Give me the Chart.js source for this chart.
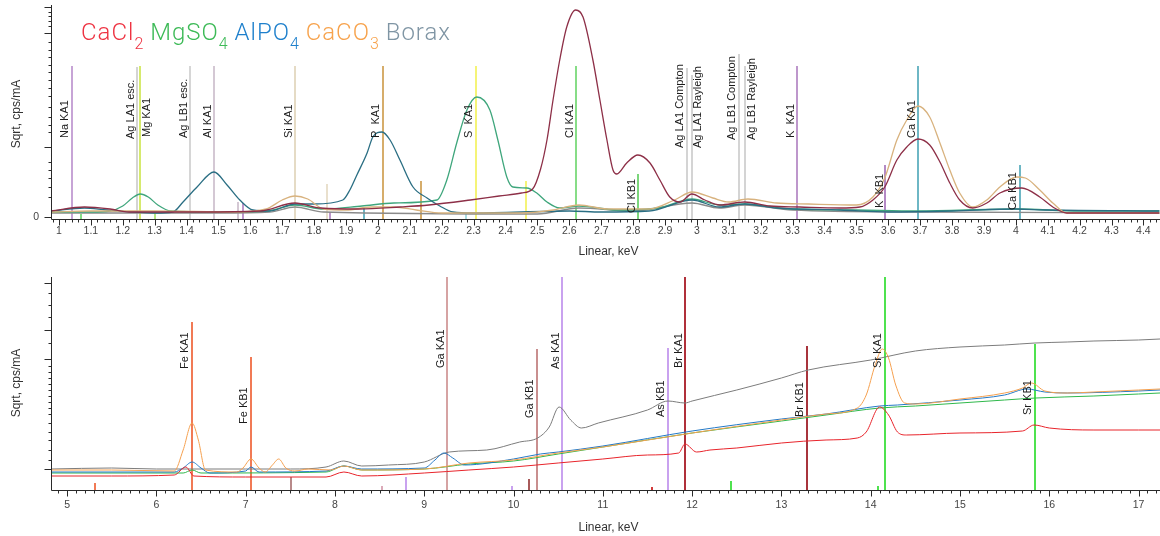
<!DOCTYPE html>
<html><head><meta charset="utf-8">
<script src="https://cdn.jsdelivr.net/npm/chart.js@4.4.0/dist/chart.umd.min.js"></script>
<style>
html,body{margin:0;padding:0;background:#fff;width:1160px;height:536px;overflow:hidden}
#wrapTop{position:absolute;left:0;top:0;width:1160px;height:260px}
#wrapBot{position:absolute;left:0;top:260px;width:1160px;height:276px}
#legend{position:absolute;left:81px;top:20px;font-family:Roboto,'Noto Sans',sans-serif;font-weight:300;font-size:24px;line-height:24px;letter-spacing:1px;white-space:nowrap}
#legend .s{font-size:16px;position:relative;top:9px;letter-spacing:0}
</style></head><body>
<div id="wrapTop"><canvas id="cTop" width="1160" height="260"></canvas></div>
<div id="wrapBot"><canvas id="cBot" width="1160" height="276"></canvas></div>
<div id="legend"><span style="color:#ee3342">CaCl<span class="s">2</span></span> <span style="color:#3dba57">MgSO<span class="s">4</span></span> <span style="color:#1f80cc">AlPO<span class="s">4</span></span> <span style="color:#f7a34d">CaCO<span class="s">3</span></span> <span style="color:#7f95a4">Borax</span></div>
<script>
// ---------- TOP PANEL DATA (keV, sqrt cps/mA, arbitrary units) ----------
const seriesNames = ['CaCl2','MgSO4','AlPO4','CaCO3','Borax'];

const topCaCl2X = [0.975,1.08,1.16,1.22,1.44,1.63,1.74,1.82,1.94,2.07,2.16,2.29,2.38,2.45,2.485,2.51,2.53,2.549,2.57,2.592,2.62,2.643,2.674,2.696,2.718,2.737,2.749,2.78,2.815,2.853,2.884,2.915,2.947,2.984,3.025,3.072,3.15,3.229,3.323,3.448,3.511,3.552,3.589,3.627,3.658,3.693,3.73,3.762,3.793,3.824,3.865,3.909,3.95,4.019,4.075,4.116,4.16,4.45];
const topCaCl2Y = [3,5,4,2.5,2.5,3,7,4.5,4,5,6,8.5,10.5,12,14,24,38.5,58.5,78.5,95,103.5,100,78.5,58.5,38.5,23.5,21.5,27,31,27,18.5,10,7.5,11.5,8.5,6,7.5,5.5,5,4.5,5,8.5,15,28.5,35,39,36,27.5,17,8.5,4.5,7,12,14.5,10,5,2,2];

const topMgSO4X = [0.975,1.1,1.16,1.2,1.23,1.255,1.28,1.31,1.35,1.5,1.65,1.74,1.83,1.95,2.05,2.185,2.216,2.247,2.279,2.31,2.351,2.376,2.404,2.423,2.467,2.498,2.53,2.57,2.63,2.75,2.88,2.985,3.07,3.15,3.3,3.5,3.69,4.0,4.2,4.45];
const topMgSO4Y = [2.5,2.5,3,5.5,9.5,11.5,10,6,3,2.5,3,6,4,5.5,7,8.5,18.5,37,53.5,60,53.5,38.5,20,15,14.5,12,7.5,4.5,5.5,3.5,4.5,9,6,6.5,4,3.5,3,4,3,3];

const topAlPO4X = [0.975,1.08,1.15,1.3,1.357,1.389,1.433,1.486,1.527,1.567,1.608,1.66,1.74,1.80,1.89,1.912,1.934,1.966,1.984,2.013,2.038,2.069,2.11,2.154,2.194,2.235,2.3,2.6,2.7,2.85,2.985,3.07,3.15,3.25,3.45,3.6,3.8,4.0,4.1,4.45];
const topAlPO4Y = [3,4.5,3.5,2,2.5,7.5,15,22.5,16,8.5,3.5,3,6.5,6.5,8.5,13.5,21,32,40,42.5,38.5,28.5,15,9.5,5.5,2.5,2,3,2.5,3,8.5,5,6.5,4.5,3.5,2.5,3,4,3.5,3];

const topCaCO3X = [0.975,1.1,1.3,1.55,1.65,1.70,1.74,1.78,1.83,1.9,1.98,2.05,2.12,2.2,2.45,2.55,2.63,2.72,2.85,2.93,2.985,3.05,3.1,3.16,3.25,3.35,3.5,3.552,3.589,3.627,3.658,3.693,3.73,3.762,3.793,3.824,3.865,3.909,3.95,4.003,4.03,4.075,4.116,4.16,4.45];
const topCaCO3Y = [2.5,3,3,2.5,4,8.5,10.5,9,4,3.5,5,5,3.5,2,2,3.5,6,4,4,8.5,12.5,9.5,7.5,9,7,6.5,6,10,19.5,38.5,48.5,55.5,50,37,23.5,12,5,8.5,15,20,19.5,13.5,7,2,2];

const topBoraxX = [0.975,1.5,1.66,1.74,1.83,2.5,2.63,2.8,2.985,3.07,3.15,3.3,3.7,4.45];
const topBoraxY = [2,2,2.5,5,2.5,1.5,4.5,3,7,4.5,6,3.5,2.5,2];

// element lines, top panel
const topLineKeV   = [1.041,1.244,1.254,1.411,1.487,1.740,2.016,2.308,2.622,2.816,2.968,2.984,3.133,3.151,3.314,3.590,3.692,4.013];
const topLineLabel = ['Na KA1','Ag LA1 esc.','Mg KA1','Ag LB1 esc.','Al KA1','Si KA1','P  KA1','S  KA1','Cl KA1','Cl KB1','Ag LA1 Compton','Ag LA1 Rayleigh','Ag LB1 Compton','Ag LB1 Rayleigh','K  KA1','K  KB1','Ca KA1','Ca KB1'];
const topLineTop   = [75.5,75,75.5,75.5,75.5,75.5,75.5,75.5,75.5,21.5,74.5,71,81.5,75.5,75.5,26,75.5,26];
const topLineLabelBase = [39.5,39,40,39.5,39.5,39.5,39.5,39.5,39.5,2,34.5,34.5,38.5,38.5,39.5,4.5,39.5,3.5];
// minor (unlabelled) lines, top panel
const topMinorKeV = [1.07,1.30,1.56,1.577,1.84,1.85,1.955,2.135,2.275,2.465];
const topMinorTop = [1.5,2.5,7.5,7,16.5,2.5,5,18,1.5,18];

// ---------- BOTTOM PANEL DATA ----------
const botCaCl2X = [4.82,5.5,6.2,6.33,6.42,7.0,7.9,8.1,8.3,9.0,9.5,10.0,10.5,11.0,11.5,11.85,11.92,12.05,12.2,12.5,13.0,13.5,13.85,13.95,14.1,14.2,14.3,14.4,15.0,15.7,15.83,16.0,16.5,17.0,17.24];
const botCaCl2Y = [-3,-3,-2.5,1.5,-3,-3.5,-3.5,-1,-3,-1.5,0,1.5,3.5,5.5,7.5,8.5,13,9,10,11,13.5,15,16,19,31.5,27.5,19,17.5,18.5,19.5,22.5,21,20,20,20];

const botMgSO4X = [4.82,6.3,6.4,6.5,7.9,8.1,8.3,9.0,9.5,10.0,10.5,11.0,12.0,13.0,13.5,14.1,14.5,15.0,15.5,15.85,16.5,17.0,17.24];
const botMgSO4Y = [-1.5,-1.5,0,-1.5,-1,2,0,0.5,3,4.5,8,11.5,18.5,24.5,27.5,31,32,33.5,35,36,37,38,38.5];

const botAlPO4X = [4.82,6.2,6.3,6.4,6.5,6.6,7.0,7.06,7.15,7.9,8.1,8.3,9.0,9.12,9.22,9.32,9.45,10.0,10.3,10.5,11.0,12.0,13.0,13.5,14.1,14.3,15.0,15.5,15.75,15.95,16.2,17.0,17.24];
const botAlPO4Y = [-1,-1,1,4,1,-1.5,-0.5,1.5,-1,-0.5,2,0.5,1,5,8.5,6,2.5,5.5,8,9,12,19.5,25.5,28,32,32.5,35,37.5,40.5,39,38.5,39.5,40];

const botCaCO3X = [4.82,5.5,6.2,6.3,6.4,6.47,6.55,6.9,6.97,7.06,7.15,7.22,7.3,7.37,7.45,7.55,7.7,7.95,8.1,8.3,9.0,9.5,10.0,10.5,11.0,12.0,13.0,13.5,13.85,13.95,14.05,14.13,14.2,14.28,14.38,14.5,15.0,15.5,15.7,15.8,15.95,16.2,16.5,17.0,17.24];
const botCaCO3Y = [0,0,-0.5,10,23.5,15,0,-1,1,5.5,1,-1,2.5,5.5,1,-0.5,0.5,0,2,0,0.5,3.5,5,8.5,11.5,18.5,25,28,31,37.5,52.5,60.5,56,42.5,33.5,33,35.5,38.5,41,43.5,39.5,38.5,39,40,40.5];

const botBoraxX = [4.82,5.5,6.0,6.5,7.0,7.5,7.9,8.1,8.3,8.6,9.0,9.28,9.7,10.07,10.27,10.4,10.51,10.64,10.76,10.95,11.5,11.73,11.92,12.0,12.5,13.0,13.3,14.0,14.5,15.0,15.5,15.84,16.2,16.5,17.0,17.24];
const botBoraxY = [0.5,1,0.5,0.5,0.5,0.5,1.5,4.5,2,2.5,4,9,10,14,16,21.5,31.5,25,21,23.5,30,34.5,33.5,34.5,40,46,50,55,59.5,61.5,62.5,63.5,64,64.5,65,65.5];

const botLineKeV   = [6.404,7.058,9.251,10.264,10.543,11.726,11.924,13.291,14.165,15.836];
const botLineLabel = ['Fe KA1','Fe KB1','Ga KA1','Ga KB1','As KA1','As KB1','Br KA1','Br KB1','Sr KA1','Sr KB1'];
const botLineTop   = [74,56.5,96.5,60.5,96.5,61,96.5,62,96.5,63];
const botLineLabelBase = [50.5,23,51,26,50.5,26.5,51,26.5,51,27.5];
const botMinorKeV = [5.31,7.51,8.53,8.80,9.98,10.17,11.55,12.44,14.08];
const botMinorTop = [-6.5,-3.5,-8,-3.5,-8,-4.5,-8.5,-5.5,-8];

// tick labels
const topTickLabels = [1,1.1,1.2,1.3,1.4,1.5,1.6,1.7,1.8,1.9,2,2.1,2.2,2.3,2.4,2.5,2.6,2.7,2.8,2.9,3,3.1,3.2,3.3,3.4,3.5,3.6,3.7,3.8,3.9,4,4.1,4.2,4.3,4.4];
const botTickLabels = [5,6,7,8,9,10,11,12,13,14,15,16,17];

// ---------- STYLES ----------
const topColors = {CaCl2:'#8d2f47',MgSO4:'#3fa67c',AlPO4:'#2a6e83',CaCO3:'#d8b27e',Borax:'#8a8a8a'};
const botColors = {CaCl2:'#e8242b',MgSO4:'#2fb84b',AlPO4:'#2479c6',CaCO3:'#f5a04f',Borax:'#7c7c7c'};
const topLineColors = ['#b486c9','#c6c6c6','#c9e33e','#c8c8c8','#c6b6c6','#dccfb2','#c8923a','#f2f04a','#5fd25f','#4fc94f','#c6c6c6','#c6c6c6','#c6c6c6','#c6c6c6','#a874bb','#9b62b2','#3e9fb2','#3e9fb2'];
const topLineLabelOff = [-7,-6,7,-6,-6,-6,-7,-7,-6,-6,-7,6,-7,7,-6,-5,-6,-7];
const topMinorColors = ['#5fd25f','#9ee05a','#c6b6c6','#a874bb','#e2d6bc','#a874bb','#3e9fb2','#c8923a','#8fd3d8','#f2f04a'];
const botLineColors = ['#f17a55','#f17a55','#d6a3a3','#c98f8f','#c9a2ef','#c9a2ef','#b0303a','#a8343c','#4fe24f','#4fe24f'];
const botLineLabelOff = [-7,-7,-6,-7,-6,-7,-6,-7,-7,-7];
const botMinorColors = ['#f17a55','#b88a8a','#dbaab8','#c9a2ef','#c9a2ef','#a85a5a','#d23a3a','#4fe24f','#4fe24f'];

const FONT = "'Liberation Sans', Arial, sans-serif";
Chart.defaults.font.family = FONT;
Chart.defaults.color = '#444';
Chart.defaults.animation = false;

function pts(xs, ys){ return xs.map((x,i)=>({x:x,y:ys[i]})); }
function noPad(s){ s.paddingTop=0; s.paddingBottom=0; s.paddingLeft=0; s.paddingRight=0; }

function decoPlugin(opt){
  return {
    id:'deco'+opt.name,
    beforeDatasetsDraw(chart){
      const {ctx, chartArea:a, scales:{x,y}} = chart;
      ctx.save();
      ctx.beginPath(); ctx.rect(a.left, a.top-1, a.right-a.left, a.bottom-a.top+1); ctx.clip();
      const drawLine=(e,top,col,w)=>{
        let px = Math.round(x.getPixelForValue(e)); if (w%2===1) px+=0.5;
        ctx.strokeStyle=col; ctx.lineWidth=w;
        ctx.beginPath(); ctx.moveTo(px, y.getPixelForValue(top)); ctx.lineTo(px, a.bottom); ctx.stroke();
      };
      opt.minorKeV.forEach((e,i)=>drawLine(e,opt.minorTop[i],opt.minorColors[i],opt.minorW));
      opt.lineKeV.forEach((e,i)=>drawLine(e,opt.lineTop[i],opt.lineColors[i],opt.lineW));
      ctx.restore();
    },
    afterDatasetsDraw(chart){
      const {ctx, scales:{x,y}} = chart;
      ctx.save();
      ctx.font = '11px '+FONT; ctx.fillStyle='#1b1b1b';
      ctx.textAlign='left'; ctx.textBaseline='middle';
      opt.lineKeV.forEach((e,i)=>{
        const px = x.getPixelForValue(e) + opt.labelOff[i];
        const py = y.getPixelForValue(opt.labelBase[i]);
        ctx.save(); ctx.translate(px, py); ctx.rotate(-Math.PI/2);
        ctx.fillText(opt.labels[i], 0, 0); ctx.restore();
      });
      ctx.restore();
    },
    afterDraw(chart){
      const {ctx, chartArea:a, scales:{x,y}} = chart;
      ctx.save();
      ctx.strokeStyle='#2a2a2a'; ctx.lineWidth=1;
      ctx.beginPath();
      ctx.moveTo(a.left+0.5, a.top); ctx.lineTo(a.left+0.5, a.bottom+0.5);
      ctx.lineTo(a.right, a.bottom+0.5); ctx.stroke();
      ctx.beginPath();
      for (let k=opt.xk0;k<=opt.xk1;k++){
        const v=k*opt.xMinorStep; const px=Math.round(x.getPixelForValue(v))+0.5;
        if (px<a.left+1||px>a.right) continue;
        const len = (k%opt.xMajorEvery===0)?6:3;
        ctx.moveTo(px,a.bottom+0.5); ctx.lineTo(px,a.bottom+0.5+len);
      }
      opt.yTicks.forEach((v)=>{
        const py=Math.round(y.getPixelForValue(v))+0.5;
        const len = opt.yMajor.includes(v)?7:3;
        ctx.moveTo(a.left+0.5,py); ctx.lineTo(a.left+0.5-len,py);
      });
      ctx.stroke();
      ctx.fillStyle='#333'; ctx.font='12px '+FONT;
      ctx.textAlign='center'; ctx.textBaseline='middle';
      ctx.fillText('Linear, keV', (a.left+a.right)/2+3, opt.xTitleY);
      ctx.save(); ctx.translate(17, opt.yTitleY); ctx.rotate(-Math.PI/2);
      ctx.fillText('Sqrt, cps/mA',0,0); ctx.restore();
      ctx.restore();
    }
  };
}

function makeChart(id, opt){
  const datasets = [
    {label:'CaCl2', data:pts(opt.d.CaCl2[0],opt.d.CaCl2[1]), borderColor:opt.colors.CaCl2},
    {label:'CaCO3', data:pts(opt.d.CaCO3[0],opt.d.CaCO3[1]), borderColor:opt.colors.CaCO3},
    {label:'AlPO4', data:pts(opt.d.AlPO4[0],opt.d.AlPO4[1]), borderColor:opt.colors.AlPO4},
    {label:'MgSO4', data:pts(opt.d.MgSO4[0],opt.d.MgSO4[1]), borderColor:opt.colors.MgSO4},
    {label:'Borax', data:pts(opt.d.Borax[0],opt.d.Borax[1]), borderColor:opt.colors.Borax}
  ].map(d=>Object.assign(d,{borderWidth:opt.bw,pointRadius:0,fill:false,
      cubicInterpolationMode:'monotone',tension:0}));
  return new Chart(document.getElementById(id),{
    type:'line',
    data:{datasets},
    options:{
      responsive:false, devicePixelRatio:1, animation:false,
      layout:{padding:{top:opt.padTop,left:0,right:0,bottom:0}},
      plugins:{legend:{display:false},tooltip:{enabled:false}},
      scales:{
        x:{type:'linear',min:opt.xmin,max:opt.xmax,
           grid:{display:false,drawTicks:false},border:{display:false},
           afterBuildTicks:(s)=>{s.ticks=opt.tickLabels.map(v=>({value:v}));},
           afterFit:(s)=>{s.height=opt.xAxisH; noPad(s);},
           ticks:{autoSkip:false,maxRotation:0,padding:opt.xTickPad,color:'#444',font:{size:10.5},
             callback:(v)=>String(Math.round(v*10)/10)}},
        y:{type:'linear',min:opt.ymin,max:opt.ymax,
           grid:{display:false,drawTicks:false},border:{display:false},
           afterBuildTicks:(s)=>{s.ticks=opt.showZero?[{value:0}]:[];},
           afterFit:(s)=>{s.width=51; noPad(s);},
           ticks:{display:opt.showZero,padding:12,color:'#444',font:{size:10.5},callback:()=> '0'}}
      }
    },
    plugins:[decoPlugin(opt)]
  });
}

makeChart('cTop',{
  name:'top', xmin:0.975, xmax:4.452, ymin:-1, ymax:106, padTop:5, xAxisH:41, xTickPad:6,
  tickLabels:topTickLabels, showZero:true, bw:1.3, colors:topColors,
  d:{CaCl2:[topCaCl2X,topCaCl2Y],MgSO4:[topMgSO4X,topMgSO4Y],AlPO4:[topAlPO4X,topAlPO4Y],CaCO3:[topCaCO3X,topCaCO3Y],Borax:[topBoraxX,topBoraxY]},
  lineKeV:topLineKeV, lineTop:topLineTop, lineColors:topLineColors, lineW:1.5,
  labels:topLineLabel, labelBase:topLineLabelBase, labelOff:topLineLabelOff,
  minorKeV:topMinorKeV, minorTop:topMinorTop, minorColors:topMinorColors, minorW:1.5,
  xk0:49, xk1:223, xMinorStep:0.02, xMajorEvery:5,
  yTicks:[0,10,15,19.5,23.5,27.5,35,42.5,46,50,55,60.5,64.5,68.5,72.5,76,80,83.5,87.5,92,95.5,98,100.5,102.5,105],
  yMajor:[0,35,92,105],
  xTitleY:252, yTitleY:114
});

makeChart('cBot',{
  name:'bot', xmin:4.82, xmax:17.24, ymin:-10, ymax:96.5, padTop:17, xAxisH:46, xTickPad:9,
  tickLabels:botTickLabels, showZero:false, bw:1, colors:botColors,
  d:{CaCl2:[botCaCl2X,botCaCl2Y],MgSO4:[botMgSO4X,botMgSO4Y],AlPO4:[botAlPO4X,botAlPO4Y],CaCO3:[botCaCO3X,botCaCO3Y],Borax:[botBoraxX,botBoraxY]},
  lineKeV:botLineKeV, lineTop:botLineTop, lineColors:botLineColors, lineW:2,
  labels:botLineLabel, labelBase:botLineLabelBase, labelOff:botLineLabelOff,
  minorKeV:botMinorKeV, minorTop:botMinorTop, minorColors:botMinorColors, minorW:2,
  xk0:49, xk1:172, xMinorStep:0.1, xMajorEvery:10,
  yTicks:[0.5,5,10,15,19,23.5,28,31,34,37,40,43,46,49,52,55.5,63.5,70,76.5,82.5,88.5,93.5],
  yMajor:[0.5,55.5,70,93.5],
  xTitleY:268, yTitleY:123
});
</script>
</body></html>
